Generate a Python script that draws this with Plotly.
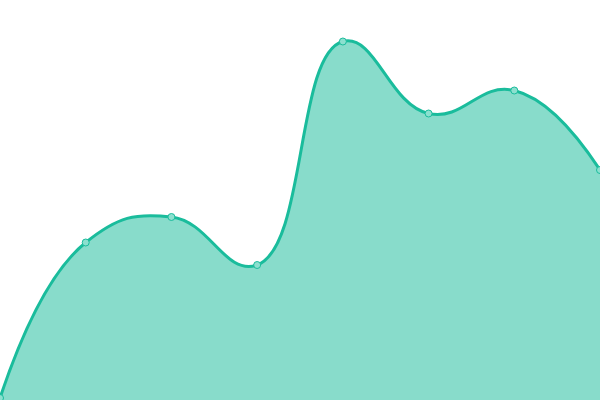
import plotly.graph_objects as go

x_vals = [0, 1, 2, 3, 4, 5, 6, 7]
y_vals = [2, 157.5, 183, 135, 358.5, 286.5, 309.5, 230]

fig = go.Figure()
fig.add_trace(go.Scatter(
    x=x_vals, y=y_vals,
    mode="lines+markers",
    line=dict(shape="spline", smoothing=1.3, color="#1abc9c", width=3),
    fill="tozeroy",
    fillcolor="rgba(26,188,156,0.52)",
    marker=dict(size=7, color="#8ce0cf", line=dict(color="#1abc9c", width=1)),
    hoverinfo="skip",
    cliponaxis=True,
))
fig.update_layout(
    width=600, height=400,
    margin=dict(l=0, r=0, t=0, b=0),
    paper_bgcolor="white", plot_bgcolor="white",
    showlegend=False,
    xaxis=dict(range=[0, 7], visible=False, fixedrange=True),
    yaxis=dict(range=[0, 400], visible=False, fixedrange=True),
)
fig.write_html(
    "out.html",
    config={"displayModeBar": False},
    post_script="document.body.style.margin='0';document.body.style.overflow='hidden';",
)
